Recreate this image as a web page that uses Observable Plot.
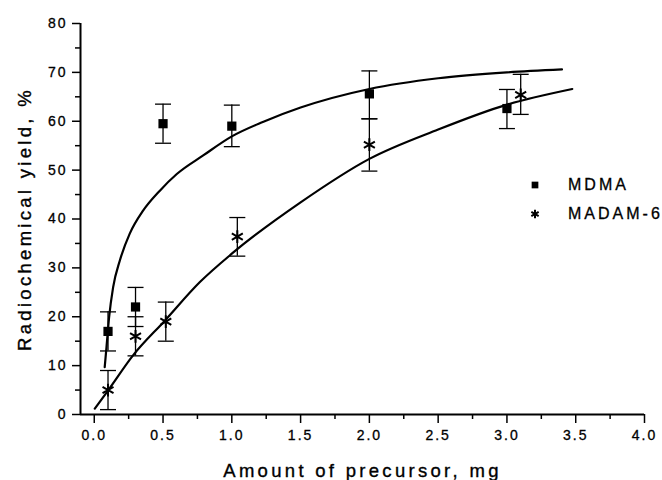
<!DOCTYPE html>
<html>
<head>
<meta charset="utf-8">
<script src="https://cdn.jsdelivr.net/npm/d3@7"></script>
<script src="https://cdn.jsdelivr.net/npm/@observablehq/plot@0.6"></script>
<style>
html, body { margin: 0; padding: 0; background: #fff; }
#wrap { position: relative; width: 662px; height: 480px; font-family: "Liberation Sans", Arial, sans-serif; color: #000; }
#wrap svg text { font-size: 14px; letter-spacing: 2px; stroke: #000; stroke-width: 0.3px; }
#wrap svg g[aria-label="x-axis label"] text,
#wrap svg g[aria-label="y-axis label"] text { font-size: 18.5px; letter-spacing: 3.3px; stroke-width: 0.35px; }
.lg-row { position: absolute; left: 528px; height: 20px; display: flex; align-items: center; font-size: 16px; letter-spacing: 3px; white-space: nowrap; -webkit-text-stroke: 0.3px #000; }
.lg-row svg { width: 14px; height: 14px; flex: none; }
.lg-row span { margin-left: 26px; }
</style>
</head>
<body>
<div id="wrap"></div>
<script>
// ---- data ----
const seriesNames = ["MDMA", "MADAM-6"];

const mdmaX  = [0.1, 0.3, 0.5, 1.0, 2.0, 3.0];
const mdmaY  = [17, 22, 59.5, 59, 65.6, 62.6];
const mdmaLo = [13, 18, 55.5, 54.8, 60.5, 58.5];
const mdmaHi = [21, 26, 63.5, 63.3, 70.3, 66.5];

const madamX  = [0.1, 0.3, 0.52, 1.04, 2.0, 3.1];
const madamY  = [5, 16, 19, 36.4, 55.2, 65.4];
const madamLo = [1, 12, 15, 32.4, 49.8, 61.4];
const madamHi = [9, 20, 23, 40.3, 60.5, 69.6];

// fitted curves
const mdmaFitX = [0.076, 0.089, 0.108, 0.137, 0.186, 0.258, 0.355, 0.477, 0.6, 0.792, 1.0, 1.23, 1.5, 2.0, 2.5, 3.0, 3.4];
const mdmaFitY = [9.7, 13.8, 19.9, 26.0, 31.5, 37.0, 41.7, 45.8, 49.2, 53.0, 56.9, 59.9, 62.8, 66.6, 68.8, 70.0, 70.6];
const madamFitX = [0.004, 0.1, 0.282, 0.513, 0.768, 1.0, 1.5, 2.0, 2.5, 3.0, 3.475];
const madamFitY = [1.2, 4.9, 12.1, 19.2, 27.1, 32.9, 43.4, 52.3, 58.3, 63.4, 66.6];

// axes
const xDomain = [-0.1, 4.0];
const yDomain = [0, 80];
const xTicks = [0, 0.5, 1.0, 1.5, 2.0, 2.5, 3.0, 3.5, 4.0];
const xTickLabels = ["0.0", "0.5", "1.0", "1.5", "2.0", "2.5", "3.0", "3.5", "4.0"];
const xMinorTicks = [0.25, 0.75, 1.25, 1.75, 2.25, 2.75, 3.25, 3.75];
const yTicks = [0, 10, 20, 30, 40, 50, 60, 70, 80];
const yTickLabels = ["0", "10", "20", "30", "40", "50", "60", "70", "80"];
const yMinorTicks = [5, 15, 25, 35, 45, 55, 65, 75];
const xTitle = "Amount of precursor, mg";
const yTitle = "Radiochemical yield, %";

// ---- build tables ----
const mdma = mdmaX.map((x, i) => ({x, y: mdmaY[i], lo: mdmaLo[i], hi: mdmaHi[i]}));
const madam = madamX.map((x, i) => ({x, y: madamY[i], lo: madamLo[i], hi: madamHi[i]}));
const errs = mdma.concat(madam);
const mdmaFit = mdmaFitX.map((x, i) => ({x, y: mdmaFitY[i]}));
const madamFit = madamFitX.map((x, i) => ({x, y: madamFitY[i]}));
const xLab = new Map(xTicks.map((t, i) => [t, xTickLabels[i]]));
const yLab = new Map(yTicks.map((t, i) => [t, yTickLabels[i]]));

// horizontal cap symbol for error bars
const capSymbol = {
  draw(ctx, size) {
    const w = Math.sqrt(size / Math.PI);
    ctx.moveTo(-w, 0);
    ctx.lineTo(w, 0);
  }
};

const font = "'Liberation Sans', Arial, sans-serif";

const chart = Plot.plot({
  width: 662,
  height: 480,
  marginLeft: 80,
  marginRight: 18,
  marginTop: 23,
  marginBottom: 66,
  style: {fontFamily: font, background: "#fff", color: "#000", overflow: "visible"},
  x: {domain: xDomain},
  y: {domain: yDomain},
  marks: [
    Plot.axisX({ticks: xMinorTicks, tickSize: 5, strokeWidth: 1.5, tickFormat: () => "", label: null}),
    Plot.axisY({ticks: yMinorTicks, tickSize: 5, strokeWidth: 1.5, tickFormat: () => "", label: null}),
    Plot.axisX({
      ticks: xTicks, tickSize: 9, tickPadding: 7, strokeWidth: 1.5, fontSize: 14,
      tickFormat: d => xLab.get(d),
      label: xTitle, labelAnchor: "center", labelArrow: "none", labelOffset: 62
    }),
    Plot.axisY({
      ticks: yTicks, tickSize: 8, tickPadding: 5, strokeWidth: 1.5, fontSize: 14,
      tickFormat: d => yLab.get(d),
      label: yTitle, labelAnchor: "center", labelArrow: "none", labelOffset: 63
    }),
    Plot.ruleX([xDomain[0]], {stroke: "#000", strokeWidth: 2}),
    Plot.ruleY([yDomain[0]], {stroke: "#000", strokeWidth: 2}),
    Plot.line(mdmaFit, {x: "x", y: "y", curve: "monotone-x", stroke: "#000", strokeWidth: 2.2}),
    Plot.line(madamFit, {x: "x", y: "y", curve: "monotone-x", stroke: "#000", strokeWidth: 2.2}),
    Plot.ruleX(errs, {x: "x", y1: "lo", y2: "hi", stroke: "#000", strokeWidth: 1.3}),
    Plot.dot(errs, {x: "x", y: "lo", symbol: capSymbol, r: 8, stroke: "#000", strokeWidth: 1.3, fill: "none"}),
    Plot.dot(errs, {x: "x", y: "hi", symbol: capSymbol, r: 8, stroke: "#000", strokeWidth: 1.3, fill: "none"}),
    Plot.dot(mdma, {x: "x", y: "y", symbol: "square", r: 5.2, fill: "#000", stroke: "none"}),
    Plot.dot(madam, {x: "x", y: "y", symbol: "asterisk", r: 6, stroke: "#000", strokeWidth: 2})
  ]
});

const wrap = document.getElementById("wrap");
wrap.appendChild(chart);

// legend (overlay)
const legendTops = [175, 203.5];
const legendSymbols = [d3.symbolSquare, d3.symbolAsterisk];
seriesNames.forEach((name, i) => {
  const row = document.createElement("div");
  row.className = "lg-row";
  row.style.top = legendTops[i] + "px";
  const s = d3.create("svg").attr("viewBox", "-7 -7 14 14");
  const p = s.append("path").attr("d", d3.symbol(legendSymbols[i], i === 0 ? 45 : 50)());
  if (i === 0) p.attr("fill", "#000");
  else p.attr("fill", "none").attr("stroke", "#000").attr("stroke-width", 2);
  row.appendChild(s.node());
  const t = document.createElement("span");
  t.textContent = name;
  row.appendChild(t);
  wrap.appendChild(row);
});
</script>
</body>
</html>
